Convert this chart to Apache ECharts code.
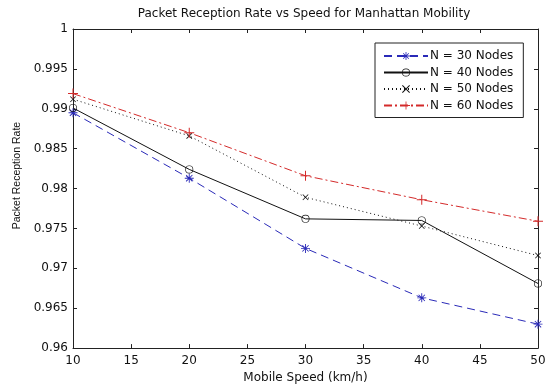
<!DOCTYPE html>
<html>
<head>
<meta charset="utf-8">
<script src="https://cdn.jsdelivr.net/npm/echarts@6/dist/echarts.min.js"></script>
<style>
html,body{margin:0;padding:0;background:#fff;}
#c{width:552px;height:389px;}
</style>
</head>
<body>
<div id="c"></div>
<script>
var speeds = [10, 20, 30, 40, 50];
var n30 = [0.9895, 0.9813, 0.9725, 0.9663, 0.9630];
var n40 = [0.9901, 0.9824, 0.9762, 0.9760, 0.9681];
var n50 = [0.9912, 0.9866, 0.9789, 0.9753, 0.9716];
var n60 = [0.9919, 0.9870, 0.9816, 0.9786, 0.9759];
var seriesNames = ['N = 30 Nodes', 'N = 40 Nodes', 'N = 50 Nodes', 'N = 60 Nodes'];
var titleText = 'Packet Reception Rate vs Speed for Manhattan Mobility';
var xName = 'Mobile Speed (km/h)';
var yName = 'Packet Reception Rate';

var FONT = 'DejaVu Sans';
var PLUS = 'path://M-1,-10 L1,-10 L1,10 L-1,10 Z M-10,-1 L10,-1 L10,1 L-10,1 Z';
var XMARK = 'path://M-7.7,-6.3 L-6.3,-7.7 L7.7,6.3 L6.3,7.7 Z M6.3,-7.7 L7.7,-6.3 L-6.3,7.7 L-7.7,6.3 Z';
var STAR = 'path://M-1,-10 L1,-10 L1,10 L-1,10 Z M-10,-1 L10,-1 L10,1 L-10,1 Z M-7.7,-6.3 L-6.3,-7.7 L7.7,6.3 L6.3,7.7 Z M6.3,-7.7 L7.7,-6.3 L-6.3,7.7 L-7.7,6.3 Z';
var RING = 'path://M0,-10 A10,10 0 1,1 0,10 A10,10 0 1,1 0,-10 Z M0,-8.4 A8.4,8.4 0 1,0 0,8.4 A8.4,8.4 0 1,0 0,-8.4 Z';

function pairs(arr){ return speeds.map(function(s,i){ return [s, arr[i]]; }); }

var chart = echarts.init(document.getElementById('c'), null, {renderer:'canvas'});
var axisColor = '#222';
var option = {
  animation: false,
  backgroundColor: '#fff',
  title: {
    text: titleText, left: 299, top: 3, textAlign: 'center',
    textStyle: {fontFamily: FONT, fontSize: 12, fontWeight: 'normal', color: '#111'}
  },
  legend: {
    orient: 'vertical', left: 375, top: 43,
    data: seriesNames,
    itemWidth: 44, itemHeight: 10, itemGap: 4.5,
    padding: [7, 10, 6, 8],
    borderColor: '#222', borderWidth: 1, backgroundColor: '#fff',
    textStyle: {fontFamily: FONT, fontSize: 12, color: '#111', padding: [0,0,0,-3]}
  },
  grid: {left: 73, right: 14, top: 29, bottom: 37, show: false},
  xAxis: [{
    type: 'value', min: 10, max: 50, interval: 5,
    name: xName, nameLocation: 'middle', nameGap: 21,
    nameTextStyle: {fontFamily: FONT, fontSize: 12, color: '#111'},
    axisLine: {show: true, lineStyle: {color: axisColor, width: 1}},
    axisTick: {show: true, inside: true, length: 4, lineStyle: {color: axisColor}},
    axisLabel: {fontFamily: FONT, fontSize: 12, color: '#111', margin: 7},
    splitLine: {show: false}
  }, {
    type: 'value', position: 'top', min: 10, max: 50, interval: 5,
    axisLine: {show: true, lineStyle: {color: axisColor, width: 1}},
    axisTick: {show: true, inside: true, length: 4, lineStyle: {color: axisColor}},
    axisLabel: {show: false}, splitLine: {show: false}
  }],
  yAxis: [{
    type: 'value', min: 0.96, max: 1, interval: 0.005,
    name: yName, nameLocation: 'middle', nameGap: 46,
    nameTextStyle: {fontFamily: 'Liberation Sans', fontSize: 10.5, color: '#111', padding: [0, 0, 0, 26]},
    axisLine: {show: true, lineStyle: {color: axisColor, width: 1}},
    axisTick: {show: true, inside: true, length: 4, lineStyle: {color: axisColor}},
    axisLabel: {fontFamily: FONT, fontSize: 12, color: '#111', margin: 5,
      formatter: function(v){ return String(parseFloat(v.toFixed(3))); }},
    splitLine: {show: false}
  }, {
    type: 'value', position: 'right', min: 0.96, max: 1, interval: 0.005,
    axisLine: {show: true, lineStyle: {color: axisColor, width: 1}},
    axisTick: {show: true, inside: true, length: 4, lineStyle: {color: axisColor}},
    axisLabel: {show: false}, splitLine: {show: false}
  }],
  series: [{
    name: seriesNames[0], type: 'line', data: pairs(n30),
    symbol: STAR, symbolSize: 9,
    lineStyle: {color: '#2a2ab8', width: 1, type: [8, 5]},
    itemStyle: {color: '#2a2ab8'}
  }, {
    name: seriesNames[1], type: 'line', data: pairs(n40),
    symbol: RING, symbolSize: 8,
    lineStyle: {color: '#111', width: 1, type: 'solid'},
    itemStyle: {color: '#111'}
  }, {
    name: seriesNames[2], type: 'line', data: pairs(n50),
    symbol: XMARK, symbolSize: 6,
    lineStyle: {color: '#111', width: 1, type: [1, 3]},
    itemStyle: {color: '#111'}
  }, {
    name: seriesNames[3], type: 'line', data: pairs(n60),
    symbol: PLUS, symbolSize: 10,
    lineStyle: {color: '#d42a2a', width: 1, type: [8, 3, 2, 3]},
    itemStyle: {color: '#d42a2a'}
  }]
};
chart.setOption(option);
</script>
</body>
</html>
